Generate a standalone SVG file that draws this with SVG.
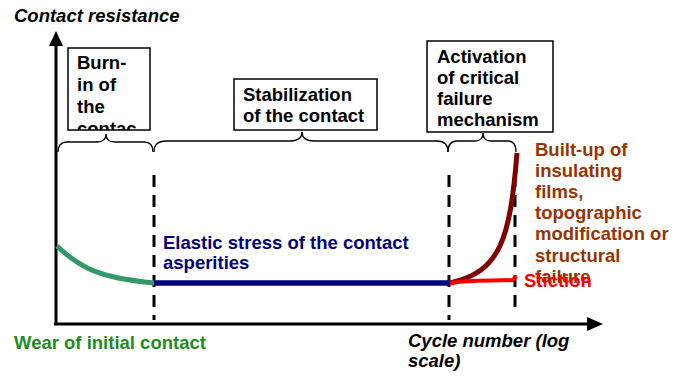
<svg xmlns="http://www.w3.org/2000/svg" width="690" height="378" viewBox="0 0 690 378">
<style>
text{font-family:"Liberation Sans",Arial,sans-serif;font-weight:bold;font-size:18.5px}
.it{font-style:italic}
.box{fill:#fff;stroke:#000;stroke-width:1.5}
.brace{fill:none;stroke:#000;stroke-width:1.3}
.dash{stroke:#000;stroke-width:3;stroke-dasharray:12,8}
.axis{stroke:#000;stroke-width:3}
</style>
<defs>
<clipPath id="c1"><rect x="68" y="48" width="82" height="82"/></clipPath>
</defs>
<rect width="690" height="378" fill="#fff"/>
<g id="axes">
<line class="axis" x1="56" y1="42" x2="56" y2="325"/>
<polygon points="56,31 49,46 63,46"/>
<line class="axis" x1="54" y1="324" x2="590" y2="324"/>
<polygon points="603,324 587,317 587,331"/>
<text class="it" x="14" y="22">Contact resistance</text>
<text class="it" x="408" y="347">Cycle number (log</text>
<text class="it" x="408" y="367">scale)</text>
</g>
<g id="burnin">
<rect class="box" x="68" y="48" width="82" height="82"/>
<g clip-path="url(#c1)">
<text x="77" y="69">Burn-</text>
<text x="77" y="91">in of</text>
<text x="77" y="113">the</text>
<text x="77" y="135">contac</text>
</g>
</g>
<g id="stabilization">
<rect class="box" x="234" y="79" width="143" height="51"/>
<text x="243" y="101">Stabilization</text>
<text x="243" y="122">of the contact</text>
</g>
<g id="activation">
<rect class="box" x="427" y="41" width="126" height="91"/>
<text x="437" y="63">Activation</text>
<text x="437" y="84">of critical</text>
<text x="437" y="105">failure</text>
<text x="437" y="126">mechanism</text>
</g>
<g id="connectors">
<path class="brace" d="M58,152 Q58,142 67,142 L97,142 Q106,142 106,134 Q106,142 115,142 L144,142 Q153,142 153,152"/>
<path class="brace" d="M154,152 Q154,141 166,141 L290,141 Q302,141 302,132 Q302,141 314,141 L437,141 Q448,141 448,152"/>
<path class="brace" d="M448,152 Q448,141 457,141 L475,141 Q483,141 483,133 Q483,141 491,141 L508,141 Q516,141 516,152"/>
<line class="dash" x1="154" y1="175" x2="154" y2="320"/>
<line class="dash" x1="449" y1="175" x2="449" y2="320"/>
<line class="dash" x1="515" y1="175" x2="515" y2="312"/>
<path d="M57,246 C80,268 100,278 154,283" fill="none" stroke="#339966" stroke-width="5"/>
<line x1="154" y1="283" x2="450" y2="283" stroke="#000080" stroke-width="5.5"/>
<path d="M450,283 C500,272 510,240 517,153" fill="none" stroke="#800000" stroke-width="5"/>
</g>
<g id="labels">
<text x="163" y="249" fill="#000080">Elastic stress of the contact</text>
<text x="163" y="269" fill="#000080">asperities</text>
<g fill="#993300">
<text x="535" y="156">Built-up of</text>
<text x="535" y="177">insulating</text>
<text x="535" y="198">films,</text>
<text x="535" y="219">topographic</text>
<text x="535" y="240">modification or</text>
<text x="535" y="262">structural</text>
<text x="535" y="283">failure</text>
</g>
<path d="M450,283 C470,280 490,281 513,280 L516,276" fill="none" stroke="#ff0000" stroke-width="4"/>
<text x="524" y="287" fill="#ff0000">Stiction</text>
<text x="14" y="349" fill="#1e8c1e">Wear of initial contact</text>
</g>
</svg>
